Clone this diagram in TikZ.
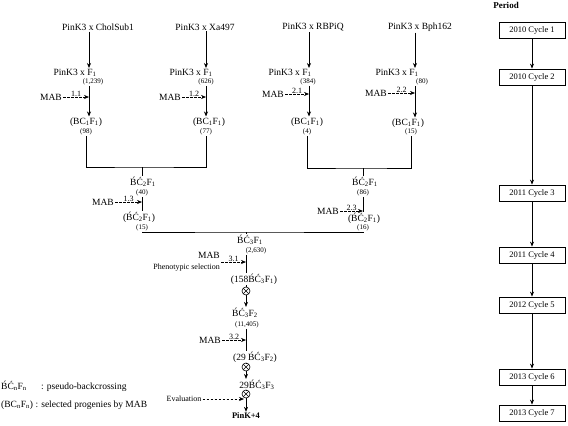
\documentclass[tikz,border=0pt]{standalone}
\usepackage{fontspec}
\setmainfont{Liberation Serif}
\usepackage{tikz}
\usetikzlibrary{arrows.meta,positioning,calc}

\newcommand{\bcf}[2]{\'B\'C\textsubscript{#1}F\textsubscript{#2}}

\begin{document}
\begin{tikzpicture}[
    x=1pt, y=-1pt,
    every node/.style={inner sep=1pt},
    parent/.style={font=\fontsize{9.5}{11}\selectfont},
    num/.style={font=\fontsize{7}{8}\selectfont, inner sep=0.5pt},
    mabno/.style={font=\fontsize{8}{9}\selectfont, inner sep=0.5pt},
    side/.style={font=\fontsize{8}{9}\selectfont},
    yearbox/.style={rectangle, draw, line width=0.8pt, minimum width=66pt, minimum height=16pt, inner sep=0pt, font=\fontsize{8.5}{10}\selectfont},
    selfing/.style={circle, draw, line width=0.6pt, inner sep=0pt, minimum size=8pt,
        path picture={\draw[line width=0.5pt] (path picture bounding box.north west) -- (path picture bounding box.south east)
            (path picture bounding box.north east) -- (path picture bounding box.south west);}},
    arrow/.style={-{Stealth[length=5pt,width=4pt]}, line width=0.7pt},
    mab/.style={-{Stealth[length=5pt,width=4pt]}, line width=0.6pt, dash pattern=on 2.5pt off 1.5pt},
    link/.style={line width=0.7pt}
]
\useasboundingbox (0,0) rectangle (568,426);

% Column lines
\coordinate (c1) at (89,0);
\coordinate (c2) at (206,0);
\coordinate (c3) at (309,0);
\coordinate (c4) at (415,0);

% Parental crosses
\node[parent] (top1) at (98,27) {PinK3 x CholSub1};
\node[parent] (top2) at (205,27) {PinK3 x Xa497};
\node[parent] (top3) at (313,27) {PinK3 x RBPiQ};
\node[parent] (top4) at (420,27) {PinK3 x Bph162};

% F1 crosses
\node[parent] (f1) at (75,73) {PinK3 x F\textsubscript{1}};
\node[parent] (f2) at (191,73) {PinK3 x F\textsubscript{1}};
\node[parent] (f3) at (290,73) {PinK3 x F\textsubscript{1}};
\node[parent] (f4) at (397,73) {PinK3 x F\textsubscript{1}};
\node[num] (n1) at (93,82) {(1,239)};
\node[num] (n2) at (206,82) {(626)};
\node[num] (n3) at (308,82) {(384)};
\node[num] (n4) at (422,82) {(80)};

\draw[arrow] (top1.south -| c1) -- (f1.north -| c1);
\draw[arrow] (top2.south -| c2) -- (f2.north -| c2);
\draw[arrow] (top3.south -| c3) -- (f3.north -| c3);
\draw[arrow] (top4.south -| c4) -- (f4.north -| c4);

% MAB on BC1F1
\node[parent] (m1) at (51,97) {MAB};
\node[parent] (m2) at (170,97) {MAB};
\node[parent] (m3) at (273,94) {MAB};
\node[parent] (m4) at (376,93) {MAB};
\draw[mab] (m1.east) -- (m1.east -| c1) node[midway, above, mabno] (l1) {1.1};
\draw[mab] (m2.east) -- (m2.east -| c2) node[midway, above, mabno] (l2) {1.2};
\draw[mab] (m3.east) -- (m3.east -| c3) node[midway, above, mabno] (l3) {2.1};
\draw[mab] (m4.east) -- (m4.east -| c4) node[midway, above, mabno] (l4) {2.2};

\node[parent] (b1) at (86,122) {(BC\textsubscript{1}F\textsubscript{1})};
\node[parent] (b2) at (209,122) {(BC\textsubscript{1}F\textsubscript{1})};
\node[parent] (b3) at (307,122) {(BC\textsubscript{1}F\textsubscript{1})};
\node[parent] (b4) at (408,123) {(BC\textsubscript{1}F\textsubscript{1})};
\node[num] (nb1) at (86,132) {(98)};
\node[num] (nb2) at (206,132) {(77)};
\node[num] (nb3) at (307,132) {(4)};
\node[num] (nb4) at (411,132) {(15)};

\draw[arrow] (n1.south -| c1) -- (b1.north -| c1);
\draw[arrow] (n2.south -| c2) -- (b2.north -| c2);
\draw[arrow] (n3.south -| c3) -- (b3.north -| c3);
\draw[arrow] (n4.south -| c4) -- (b4.north -| c4);

% Left merge
\coordinate (jA) at (142,167);
\draw[link] (nb1.south) |- (jA) -| (nb2.south);
\node[parent] (g1) at (143,182) {\bcf{2}{1}};
\node[num] (ng1) at (142,193) {(40)};
\draw[link] (jA) -- (jA |- g1.north);
\node[parent] (m5) at (103,202) {MAB};
\draw[mab] (m5.east) -- (m5.east -| jA) node[midway, above, mabno] (l5) {1.3};
\node[parent] (h1) at (139,217) {(\bcf{2}{1})};
\node[num] (nh1) at (142,228) {(15)};
\draw[link] (ng1.south -| jA) -- (jA |- h1.north);

% Right merge
\coordinate (jB) at (363,168);
\draw[link] (nb3.south) |- (jB) -| (nb4.south);
\node[parent] (g2) at (365,182) {\bcf{2}{1}};
\node[num] (ng2) at (363,193) {(86)};
\draw[link] (jB) -- (jB |- g2.north);
\node[parent] (m6) at (328,211) {MAB};
\draw[mab] (m6.east) -- (m6.east -| jB) node[midway, above, mabno] (l6) {2.3};
\node[parent] (h2) at (364,218) {(\bcf{2}{1})};
\node[num] (nh2) at (363,228) {(16)};
\draw[link] (ng2.south -| jB) -- (jB |- h2.north);

% Final line
\coordinate (jC) at (246,232);
\draw[link] (nh1.south) |- (jC) -| (nh2.south);
\node[parent] (k1) at (250,240) {\bcf{3}{1}};
\node[num] (nk1) at (256,251) {(2,630)};
\draw[link] (jC) -- (jC |- k1.north);
\node[parent, align=right, anchor=east] (m7) at (221,262) {MAB\\{\fontsize{8}{9}\selectfont Phenotypic selection}};
\draw[mab] (m7.east) -- (m7.east -| jC) node[midway, above, mabno] (l7) {3.1};
\node[parent] (k2) at (254,279) {(158\bcf{3}{1})};
\draw[link] (nk1.south -| jC) -- (jC |- k2.north);

\node[selfing] (s1) at (246,291) {};
\draw[link] (k2.south -| s1) -- (s1.north);
\node[parent] (k3) at (245,313) {\bcf{3}{2}};
\node[num] (nk3) at (247,325) {(11,405)};
\draw[arrow] (s1.south) -- (s1.south |- k3.north);

\node[parent] (m8) at (210,340) {MAB};
\draw[mab] (m8.east) -- (m8.east -| jC) node[midway, above, mabno] (l8) {3.2};
\node[parent] (k4) at (255,357) {(29 \bcf{3}{2})};
\draw[link] (nk3.south -| jC) -- (jC |- k4.north);

\node[selfing] (s2) at (246,367) {};
\draw[link] (k4.south -| s2) -- (s2.north);
\node[parent] (k5) at (257,385) {29\bcf{3}{3}};
\draw[arrow] (s2.south) -- (s2.south |- k5.north);

\node[selfing] (s3) at (246,394) {};
\draw[link] (k5.south -| s3) -- (s3.north);
\node[parent, font=\fontsize{8.5}{10}\selectfont\bfseries] (pk) at (246,416) {PinK+4};
\draw[arrow] (s3.south) -- (pk.north);
\node[side] (ev) at (184,399) {Evaluation};
\draw[mab, shorten >=2pt] (ev.east) -- (ev.east -| s3);

% Legend
\node[parent, anchor=west] (key1) at (0,386) {\bcf{n}{n}\quad\ \ : pseudo-backcrossing};
\node[parent, anchor=west] (key2) at (0,405) {(BC\textsubscript{n}F\textsubscript{n}) : selected progenies by MAB};

% Period column
\node[font=\fontsize{9}{10}\selectfont\bfseries] (per) at (506,5) {Period};
\foreach \yr/\cy/\yy [count=\i] in {2010/1/30, 2010/2/77, 2011/3/193, 2011/4/255, 2012/5/305, 2013/6/377, 2013/7/413}
    \node[yearbox] (y\i) at (532,\yy) {\yr{} Cycle \cy};
\foreach \a/\b in {1/2, 2/3, 3/4, 4/5, 5/6, 6/7}
    \draw[arrow] (y\a.south) -- (y\b.north);

\end{tikzpicture}
\end{document}
